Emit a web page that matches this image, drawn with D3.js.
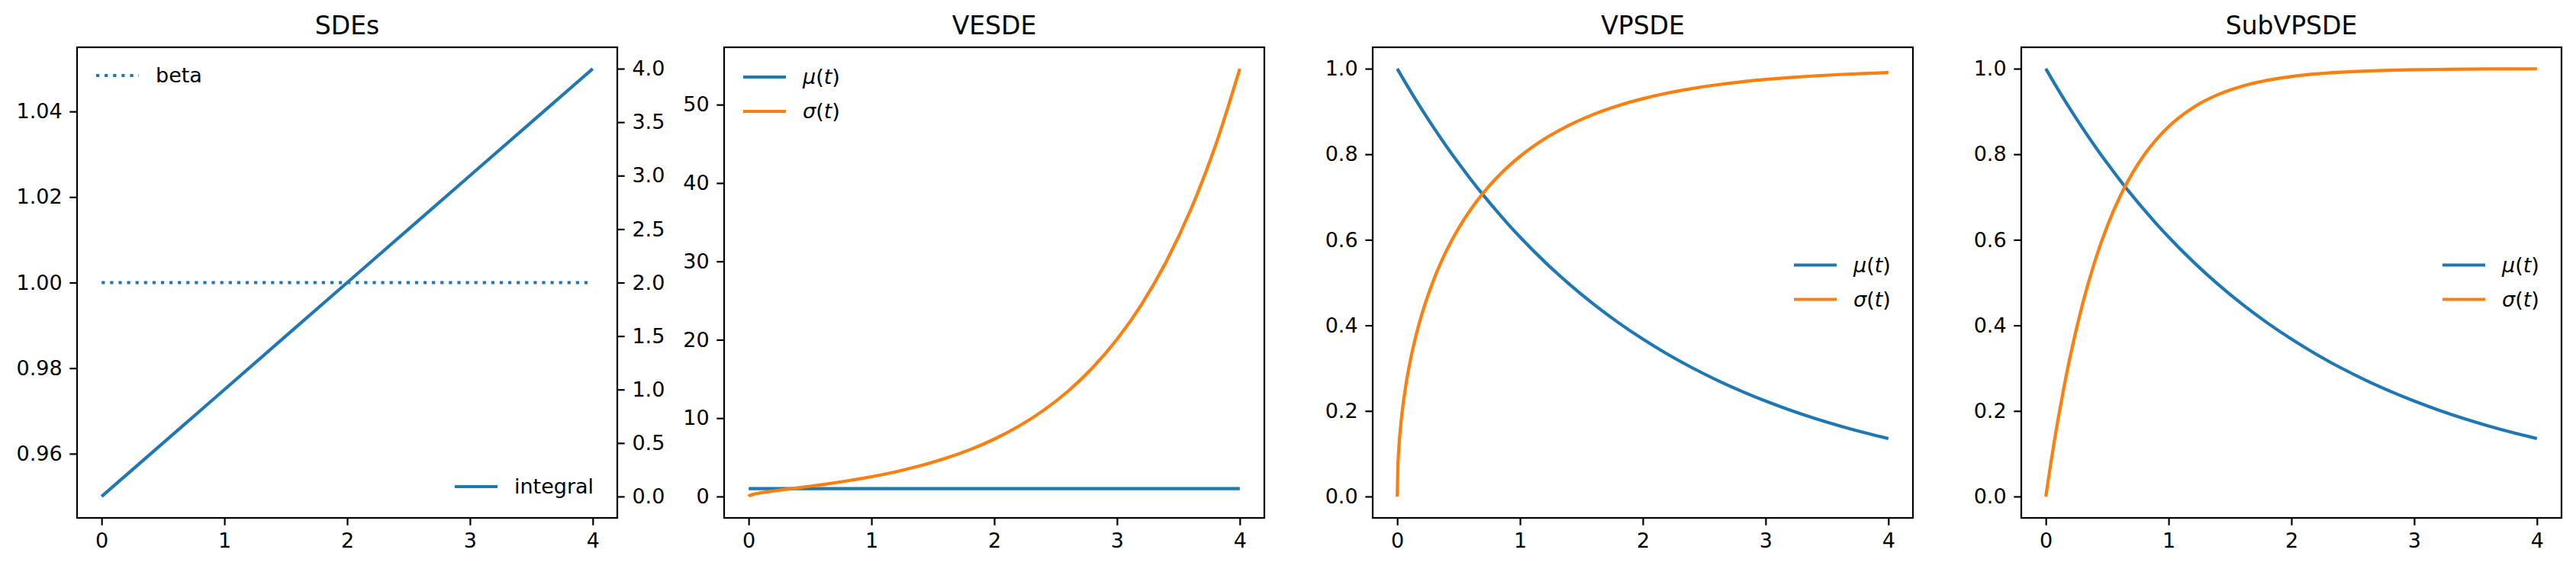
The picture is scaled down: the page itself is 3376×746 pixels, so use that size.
<!DOCTYPE html>
<html>
<head>
<meta charset="UTF-8">
<title>SDEs</title>
<script src="https://d3js.org/d3.v7.min.js"></script>
<style>
    body {
        margin: 0;
        background: #fff;
    }
    svg {
        font-family: "DejaVu Sans", sans-serif;
    }
    .tick text {
        font-size: 27px;
        fill: #000;
    }
    .tick line {
        stroke: #000;
        stroke-width: 2.2;
    }
    .title {
        font-size: 33px;
        fill: #000;
    }
    .legend text {
        font-size: 27px;
        fill: #000;
    }
</style>
</head>
<body>
<div id="chart"></div>
<script>

    // straight lines (SDEs panel, VESDE mean)
    var tLine = [0, 1, 2, 3, 4];
    var betaVals = [1, 1, 1, 1, 1];
    var integralVals = [0, 1, 2, 3, 4];
    var veMu = [1, 1, 1, 1, 1];

    // curves
    var tCurve = [0, 0.005, 0.01, 0.02, 0.04, 0.07, 0.1, 0.15, 0.2, 0.3, 0.4, 0.5, 0.6, 0.7, 0.8, 0.9, 1.0,
        1.2, 1.4, 1.6, 1.8, 2.0, 2.2, 2.4, 2.6, 2.8, 3.0, 3.2, 3.4, 3.6, 3.8, 4.0];
    var veSigma = [0, 0.10025, 0.14213, 0.20202, 0.28860, 0.38765, 0.47054, 0.59149, 0.70130, 0.90671,
        1.10704, 1.31083, 1.52319, 1.74792, 1.98822, 2.24714, 2.52766, 3.16594, 3.92996, 4.85103, 5.96643,
        7.32108, 8.96944, 10.97772, 13.42655, 16.41422, 20.06063, 24.51214, 29.94741, 36.58457, 44.69000, 54.58899];
    var vpMu = [1, 0.997503, 0.995012, 0.990050, 0.980199, 0.965605, 0.951229, 0.927743, 0.904837, 0.860708,
        0.818731, 0.778801, 0.740818, 0.704688, 0.670320, 0.637628, 0.606531, 0.548812, 0.496585, 0.449329,
        0.406570, 0.367879, 0.332871, 0.301194, 0.272532, 0.246597, 0.223130, 0.201897, 0.182684, 0.165299,
        0.149569, 0.135335];
    var vpSigma = [0, 0.07063, 0.09975, 0.14072, 0.19802, 0.26001, 0.30848, 0.37322, 0.42576, 0.50910,
        0.57418, 0.62727, 0.67171, 0.70952, 0.74207, 0.77034, 0.79506, 0.83595, 0.86799, 0.89337, 0.91362,
        0.92987, 0.94297, 0.95356, 0.96215, 0.96912, 0.97479, 0.97941, 0.98317, 0.98624, 0.98875, 0.99080];
    var subMu = [1, 0.997503, 0.995012, 0.990050, 0.980199, 0.965605, 0.951229, 0.927743, 0.904837, 0.860708,
        0.818731, 0.778801, 0.740818, 0.704688, 0.670320, 0.637628, 0.606531, 0.548812, 0.496585, 0.449329,
        0.406570, 0.367879, 0.332871, 0.301194, 0.272532, 0.246597, 0.223130, 0.201897, 0.182684, 0.165299,
        0.149569, 0.135335];
    var subSigma = [0, 0.00995, 0.01980, 0.03921, 0.07688, 0.13064, 0.18127, 0.25918, 0.32968, 0.45119,
        0.55067, 0.63212, 0.69881, 0.75340, 0.79810, 0.83470, 0.86466, 0.90928, 0.93919, 0.95924, 0.97268,
        0.98168, 0.98772, 0.99177, 0.99448, 0.99630, 0.99752, 0.99834, 0.99889, 0.99925, 0.99950, 0.99966];

    var titles = ['SDEs', 'VESDE', 'VPSDE', 'SubVPSDE'];
    var xTicks = [0, 1, 2, 3, 4];
    var betaTicks = [0.96, 0.98, 1.00, 1.02, 1.04];
    var integralTicks = [0, 0.5, 1, 1.5, 2, 2.5, 3, 3.5, 4];
    var veTicks = [0, 10, 20, 30, 40, 50];
    var unitTicks = [0, 0.2, 0.4, 0.6, 0.8, 1.0];

    var blue = '#1f77b4';
    var orange = '#ff7f0e';

    var width = 3376;
    var height = 746;
    var panelLeft = [101, 949, 1799, 2649];
    var panelTop = 62;
    var pw = 708;
    var ph = 617;
    var tickLen = 9.7;
    var lw = 4.2;
    var dotted = '4.2,6.9';

    var svg = d3.select('#chart')
        .append('svg')
        .attr('width', width)
        .attr('height', height);

    function zip(xs, ys) {
        return xs.map(function(x, i) { return [x, ys[i]]; });
    }

    function mathLabel(sel, sym) {
        sel.append('tspan').attr('font-style', 'italic').text(sym);
        sel.append('tspan').text('(');
        sel.append('tspan').attr('font-style', 'italic').text('t');
        sel.append('tspan').text(')');
    }

    function drawPanel(i, yDomain, yTicks, yFmt, series, legend, right) {
        var g = svg.append('g')
            .attr('transform', 'translate(' + panelLeft[i] + ',' + panelTop + ')');

        var x = d3.scaleLinear().domain([-0.2, 4.2]).range([0, pw]);
        var y = d3.scaleLinear().domain(yDomain).range([ph, 0]);

        g.append('g')
            .attr('transform', 'translate(0,' + ph + ')')
            .call(d3.axisBottom(x).tickValues(xTicks).tickFormat(d3.format('d'))
                .tickSize(tickLen).tickPadding(tickLen))
            .call(function(a) { a.select('.domain').remove(); });

        g.append('g')
            .call(d3.axisLeft(y).tickValues(yTicks).tickFormat(d3.format(yFmt))
                .tickSize(tickLen).tickPadding(tickLen))
            .call(function(a) { a.select('.domain').remove(); });

        var yR = null;
        if (right) {
            yR = d3.scaleLinear().domain(right.domain).range([ph, 0]);
            g.append('g')
                .attr('transform', 'translate(' + pw + ',0)')
                .call(d3.axisRight(yR).tickValues(right.ticks).tickFormat(d3.format(right.fmt))
                    .tickSize(tickLen).tickPadding(tickLen))
                .call(function(a) { a.select('.domain').remove(); });
        }

        g.selectAll('.tick text').attr('font-family', null).attr('font-size', null);
        g.selectAll('g').filter(function() { return this.getAttribute('font-family'); })
            .attr('font-family', null).attr('font-size', null);

        series.forEach(function(s) {
            var ys = s.right ? yR : y;
            var line = d3.line()
                .x(function(d) { return x(d[0]); })
                .y(function(d) { return ys(d[1]); })
                .curve(d3.curveMonotoneX);
            g.append('path')
                .datum(zip(s.t, s.v))
                .attr('d', line)
                .attr('fill', 'none')
                .attr('stroke', s.color)
                .attr('stroke-width', lw)
                .attr('stroke-dasharray', s.dash || null);
        });

        g.append('rect')
            .attr('width', pw)
            .attr('height', ph)
            .attr('fill', 'none')
            .attr('stroke', '#000')
            .attr('stroke-width', 2.2);

        g.append('text')
            .attr('class', 'title')
            .attr('x', pw / 2)
            .attr('y', -17)
            .attr('text-anchor', 'middle')
            .text(titles[i]);

        legend.forEach(function(l) {
            var lg = g.append('g')
                .attr('class', 'legend')
                .attr('transform', 'translate(' + l.x + ',' + l.y + ')');
            lg.append('line')
                .attr('x1', 0).attr('x2', 56)
                .attr('stroke', l.color)
                .attr('stroke-width', lw)
                .attr('stroke-dasharray', l.dash || null);
            var t = lg.append('text')
                .attr('x', 78)
                .attr('dy', '0.35em');
            if (l.sym) mathLabel(t, l.sym);
            else t.text(l.label);
        });
    }

    // SDEs
    drawPanel(0, [0.945, 1.055], betaTicks, '.2f',
        [{t: tLine, v: betaVals, color: blue, dash: dotted},
         {t: tLine, v: integralVals, color: blue, right: true}],
        [{x: 25, y: 37, color: blue, dash: dotted, label: 'beta'},
         {x: pw - 213, y: ph - 41, color: blue, label: 'integral'}],
        {domain: [-0.2, 4.2], ticks: integralTicks, fmt: '.1f'});

    // VESDE
    drawPanel(1, [-2.729, 57.318], veTicks, 'd',
        [{t: tLine, v: veMu, color: blue},
         {t: tCurve, v: veSigma, color: orange}],
        [{x: 25, y: 39, color: blue, sym: 'μ'},
         {x: 25, y: 84, color: orange, sym: 'σ'}]);

    // VPSDE
    drawPanel(2, [-0.05, 1.05], unitTicks, '.1f',
        [{t: tCurve, v: vpMu, color: blue},
         {t: tCurve, v: vpSigma, color: orange}],
        [{x: pw - 156, y: ph / 2 - 23, color: blue, sym: 'μ'},
         {x: pw - 156, y: ph / 2 + 22, color: orange, sym: 'σ'}]);

    // SubVPSDE
    drawPanel(3, [-0.05, 1.05], unitTicks, '.1f',
        [{t: tCurve, v: subMu, color: blue},
         {t: tCurve, v: subSigma, color: orange}],
        [{x: pw - 156, y: ph / 2 - 23, color: blue, sym: 'μ'},
         {x: pw - 156, y: ph / 2 + 22, color: orange, sym: 'σ'}]);

</script>
</body>
</html>
